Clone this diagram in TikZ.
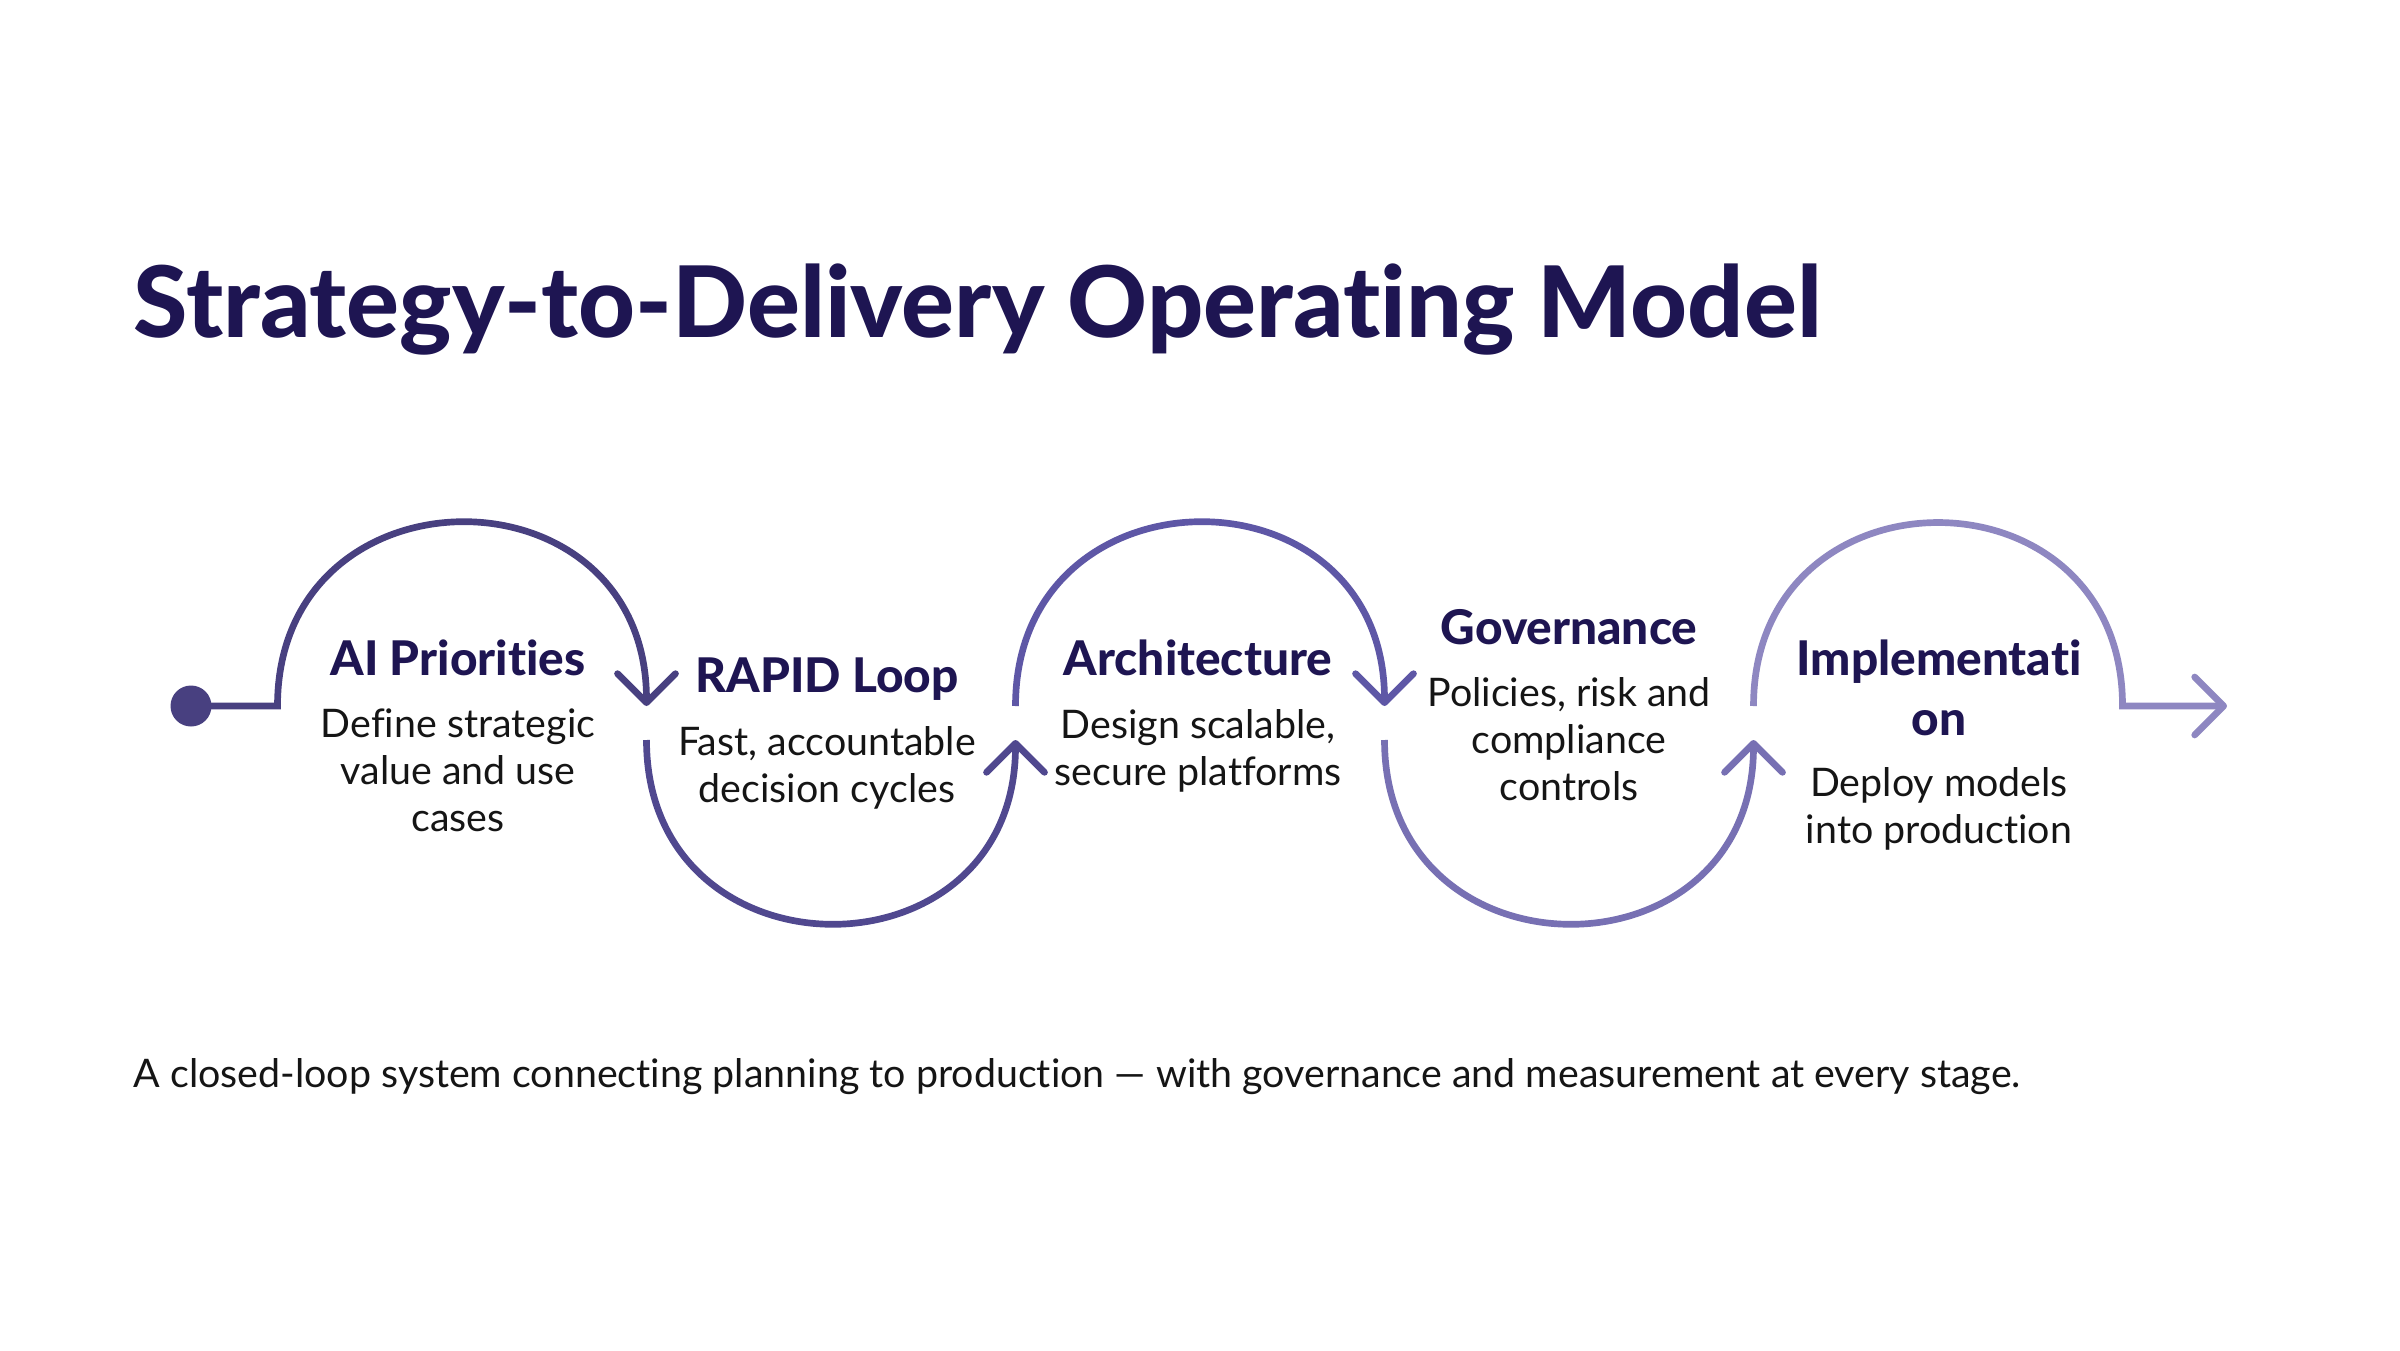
\documentclass[tikz,border=0pt]{standalone}
\usepackage{fontspec}
\setmainfont{Lato}[Ligatures=NoCommon]
\newfontfamily\heavyfont{Lato Heavy}[Ligatures=NoCommon]
\usetikzlibrary{positioning, arrows.meta}
\definecolor{ink}{HTML}{1E1552}
\definecolor{bodyink}{HTML}{151515}
\definecolor{flowA}{HTML}{484080}
\definecolor{flowB}{HTML}{50488F}
\definecolor{flowC}{HTML}{5E57A6}
\definecolor{flowD}{HTML}{7770B3}
\definecolor{flowE}{HTML}{8E87C1}
\tikzset{
flow/.style={line width=1.9pt}, % the wavy line through the stages
barb/.style={-{Straight Barb[length=2.9mm, width=5.8mm, round]}}, % open arrow head
up/.style={out=90, in=90, looseness=1.7}, % arch above the line
down/.style={out=-90, in=-90, looseness=1.7}, % arch below the line
stagetitle/.style={font=\fontsize{13.6}{17}\selectfont\heavyfont, text=ink, inner sep=0pt, align=center}, % stage name
stagetext/.style={font=\fontsize{11.2}{13.3}\selectfont, text=bodyink, inner sep=0pt, align=center}, % stage description (base = last line)
}

\begin{document}
\begin{tikzpicture}
  \fill[white] (0,0) rectangle (24,13.5);
  \useasboundingbox (0,0) rectangle (24,13.5);

  \node[anchor=base west, inner sep=0pt, text=ink, font=\fontsize{28.1}{30}\selectfont\heavyfont] (TITLE) at (1.33,10.13) {Strategy-to-Delivery Operating Model};

  % points where the arches meet
  \coordinate (u0) at (2.775,6.44);
  \coordinate (u1) at (6.465,6.44);
  \coordinate (u2) at (10.155,6.44);
  \coordinate (u3) at (13.845,6.44);
  \coordinate (u4) at (17.535,6.44);
  \coordinate (u5) at (21.225,6.44);
  \coordinate (d1) at (6.465,6.10);
  \coordinate (d2) at (10.155,6.10);
  \coordinate (d3) at (13.845,6.10);
  \coordinate (d4) at (17.535,6.10);
  \coordinate (END) at (22.27,6.44);

  \node[circle, fill=flowA, minimum size=0.41cm, inner sep=0pt] (DOT) at (1.91,6.44) {};

  \draw[flow, flowA, barb] (DOT.center) -- (u0) to[up] (u1);
  \draw[flow, flowB, barb] (d1) to[down] (d2);
  \draw[flow, flowC, barb] (u2) to[up] (u3);
  \draw[flow, flowD, barb] (d3) to[down] (d4);
  \draw[flow, flowE, barb] (u4) to[up] (u5) -- (END);

  \node[stagetitle, anchor=base] (AI) at (4.58,6.75) {AI Priorities};
  \node[stagetitle, anchor=base] (RAPID) at (8.27,6.58) {RAPID Loop};
  \node[stagetitle, anchor=base] (ARCH) at (11.98,6.75) {Architecture};
  \node[stagetitle, anchor=base] (GOV) at (15.69,7.06) {Governance};
  \node[stagetitle, anchor=base] (IMPL) at (19.39,6.15) {Implementati\\on};

  \node[stagetext, below=1.56cm of AI.base, anchor=base] (AItext) {Define strategic\\value and use\\cases};
  \node[stagetext, below=1.10cm of RAPID.base, anchor=base] (RAPIDtext) {Fast, accountable\\decision cycles};
  \node[stagetext, below=1.10cm of ARCH.base, anchor=base] (ARCHtext) {Design scalable,\\secure platforms};
  \node[stagetext, below=1.56cm of GOV.base, anchor=base] (GOVtext) {Policies, risk and\\compliance\\controls};
  \node[stagetext, below=1.08cm of IMPL.base, anchor=base] (IMPLtext) {Deploy models\\into production};

  \node[anchor=base west, inner sep=0pt, text=bodyink, font=\fontsize{11.2}{13.3}\selectfont] (NOTE) at (1.33,2.63) {A closed-loop system connecting planning to production — with governance and measurement at every stage.};
\end{tikzpicture}
\end{document}
